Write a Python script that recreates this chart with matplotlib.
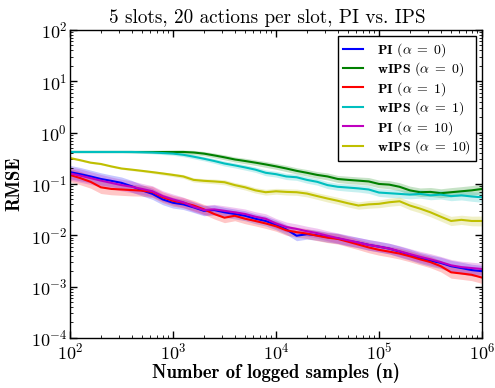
import numpy as np
import matplotlib
matplotlib.use("Agg")
import matplotlib.pyplot as plt

# ── data ────────────────────────────────────────────────────────────────────
log_n = [2.0, 2.1, 2.2, 2.3, 2.4, 2.5, 2.6, 2.7, 2.8, 2.9,
         3.0, 3.1, 3.2, 3.3, 3.4, 3.5, 3.6, 3.7, 3.8, 3.9,
         4.0, 4.1, 4.2, 4.3, 4.4, 4.5, 4.6, 4.7, 4.8, 4.9,
         5.0, 5.1, 5.2, 5.3, 5.4, 5.5, 5.6, 5.7, 5.8, 5.9, 6.0]

pi_a0 = [0.17, 0.155, 0.14, 0.125, 0.115, 0.105, 0.09, 0.075, 0.064, 0.05,
         0.043, 0.040, 0.035, 0.030, 0.031, 0.028, 0.026, 0.024, 0.021, 0.019,
         0.016, 0.013, 0.0098, 0.0105, 0.010, 0.0092, 0.0087, 0.0078, 0.0072, 0.0065,
         0.006, 0.0055, 0.0048, 0.0042, 0.0036, 0.0032, 0.0029, 0.0025, 0.0023, 0.0021, 0.002]
wips_a0 = [0.42, 0.42, 0.42, 0.42, 0.42, 0.42, 0.42, 0.42, 0.42, 0.42,
           0.42, 0.42, 0.41, 0.39, 0.36, 0.33, 0.30, 0.28, 0.26, 0.24,
           0.22, 0.20, 0.18, 0.165, 0.15, 0.14, 0.125, 0.12, 0.116, 0.112,
           0.10, 0.097, 0.088, 0.075, 0.069, 0.07, 0.066, 0.069, 0.072, 0.075, 0.08]
pi_a1 = [0.15, 0.13, 0.11, 0.086, 0.08, 0.078, 0.076, 0.074, 0.07, 0.055,
         0.047, 0.043, 0.038, 0.032, 0.026, 0.022, 0.024, 0.021, 0.019, 0.017,
         0.015, 0.0125, 0.0115, 0.0108, 0.0098, 0.009, 0.0085, 0.0075, 0.0066, 0.0058,
         0.0052, 0.0048, 0.0044, 0.0039, 0.0034, 0.003, 0.0025, 0.0019, 0.0018, 0.0017, 0.0015]
wips_a1 = [0.42, 0.42, 0.42, 0.42, 0.42, 0.42, 0.42, 0.415, 0.41, 0.40,
           0.39, 0.37, 0.34, 0.31, 0.28, 0.25, 0.23, 0.21, 0.19, 0.165,
           0.155, 0.14, 0.135, 0.12, 0.11, 0.095, 0.088, 0.085, 0.082, 0.078,
           0.068, 0.066, 0.064, 0.062, 0.064, 0.06, 0.062, 0.058, 0.06, 0.057, 0.055]
pi_a10 = [0.16, 0.145, 0.13, 0.116, 0.105, 0.095, 0.088, 0.08, 0.072, 0.058,
          0.05, 0.044, 0.036, 0.031, 0.032, 0.030, 0.028, 0.026, 0.023, 0.021,
          0.017, 0.0145, 0.0133, 0.012, 0.011, 0.0098, 0.0088, 0.008, 0.0072, 0.0065,
          0.006, 0.0055, 0.0049, 0.0043, 0.0038, 0.0034, 0.003, 0.0026, 0.0024, 0.0023, 0.0022]
wips_a10 = [0.32, 0.29, 0.26, 0.245, 0.22, 0.20, 0.19, 0.18, 0.17, 0.16,
            0.15, 0.14, 0.12, 0.115, 0.112, 0.108, 0.095, 0.086, 0.075, 0.069,
            0.072, 0.07, 0.069, 0.065, 0.058, 0.052, 0.047, 0.042, 0.038, 0.04,
            0.041, 0.044, 0.046, 0.038, 0.033, 0.028, 0.023, 0.019, 0.02, 0.019, 0.019]

# multiplicative half-width of the shaded bands
pi_spread = [1.35, 1.35, 1.33, 1.32, 1.3, 1.3, 1.3, 1.28, 1.28, 1.27,
             1.27, 1.26, 1.26, 1.25, 1.25, 1.25, 1.25, 1.25, 1.25, 1.25,
             1.25, 1.25, 1.25, 1.25, 1.25, 1.25, 1.26, 1.26, 1.26, 1.27,
             1.27, 1.27, 1.28, 1.28, 1.28, 1.29, 1.29, 1.3, 1.3, 1.3, 1.3]
wips_spread = [1.04, 1.04, 1.04, 1.04, 1.04, 1.04, 1.05, 1.05, 1.06, 1.07,
               1.08, 1.09, 1.1, 1.1, 1.11, 1.12, 1.12, 1.13, 1.13, 1.14,
               1.14, 1.15, 1.15, 1.16, 1.16, 1.17, 1.17, 1.18, 1.18, 1.19,
               1.19, 1.2, 1.2, 1.21, 1.21, 1.22, 1.22, 1.23, 1.23, 1.24, 1.25]

labels = [r"$\mathbf{PI}$ ($\alpha\;=\;0$)", r"$\mathbf{wIPS}$ ($\alpha\;=\;0$)",
          r"$\mathbf{PI}$ ($\alpha\;=\;1$)", r"$\mathbf{wIPS}$ ($\alpha\;=\;1$)",
          r"$\mathbf{PI}$ ($\alpha\;=\;10$)", r"$\mathbf{wIPS}$ ($\alpha\;=\;10$)"]
series = [pi_a0, wips_a0, pi_a1, wips_a1, pi_a10, wips_a10]
spreads = [pi_spread, wips_spread, pi_spread, wips_spread, pi_spread, wips_spread]
colors = ["#0000ff", "#008000", "#ff0000", "#00bfbf", "#bf00bf", "#bfbf00"]

# ── style ───────────────────────────────────────────────────────────────────
plt.rcParams["font.family"] = "cmr10"
plt.rcParams["mathtext.fontset"] = "cm"
plt.rcParams["axes.formatter.use_mathtext"] = True
plt.rcParams["axes.unicode_minus"] = False
plt.rcParams["xtick.direction"] = "in"
plt.rcParams["ytick.direction"] = "in"
plt.rcParams["xtick.top"] = True
plt.rcParams["ytick.right"] = True

fig = plt.figure(figsize=(4.95, 3.88), dpi=100)
ax = fig.add_axes([0.1414, 0.129, 0.8323, 0.7938])

n = 10 ** np.array(log_n)
for y, s, c, lab in zip(series, spreads, colors, labels):
    y = np.array(y)
    s = np.array(s)
    ax.fill_between(n, y / s, y * s, color=c, alpha=0.22, lw=0)
    ax.plot(n, y, color=c, lw=1.5, label=lab)

ax.set_xscale("log")
ax.set_yscale("log")
ax.set_xlim(1e2, 1e6)
ax.set_ylim(1e-4, 1e2)
ax.tick_params(labelsize=13, length=5, width=1)
ax.tick_params(axis="y", pad=2)
ax.tick_params(axis="x", pad=3)
ax.tick_params(which="minor", length=2.5)
for sp in ax.spines.values():
    sp.set_linewidth(1)

ax.set_title("5 slots, 20 actions per slot, PI vs. IPS", fontsize=13.8, pad=5, x=0.48)
ax.set_xlabel("Number of logged samples (n)", fontsize=13.4, family="cmb10", labelpad=0)
ax.set_ylabel("RMSE", fontsize=13.5, family="cmb10", labelpad=5)

leg = ax.legend(loc="upper right", fontsize=10, fancybox=False, framealpha=1,
                edgecolor="black", handlelength=1.45, handletextpad=1.0,
                labelspacing=0.12, borderpad=0.35, borderaxespad=0.45)
leg.get_frame().set_linewidth(1)

fig.savefig("out.png", dpi=100)
